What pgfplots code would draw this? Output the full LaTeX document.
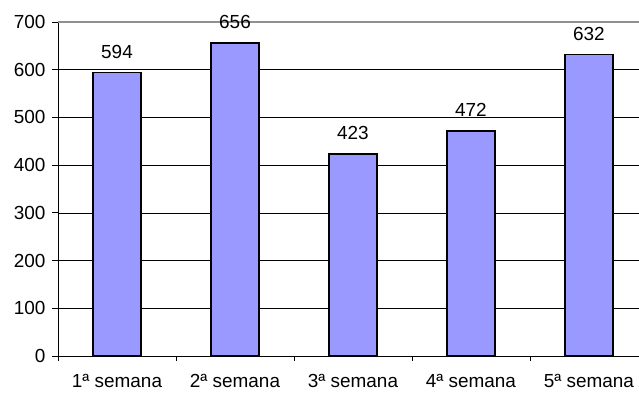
\documentclass[border=0pt]{standalone}
\usepackage{pgfplots}
\pgfplotsset{compat=1.18}
\usepackage{fontspec}
\setmainfont{Liberation Sans}
\definecolor{barblue}{HTML}{9999FF}
\definecolor{topgray}{HTML}{909090}

\begin{document}
\begin{tikzpicture}
\begin{axis}[
  at={(58bp,38bp)}, anchor=south west,
  scale only axis,
  width=581bp, height=334bp,
  xmin=-0.5, xmax=4.424,
  ymin=0, ymax=700,
  axis x line=bottom, axis y line=left,
  axis line style={-, black, line width=0.8bp},
  xtick={0,1,2,3,4},
  xticklabels={1ª semana, 2ª semana, 3ª semana, 4ª semana, 5ª semana},
  minor xtick={-0.5,0.5,1.5,2.5,3.5},
  major x tick style={draw=none},
  minor x tick style={black, line width=0.8bp},
  minor tick length=5bp,
  ytick={0,100,...,600},
  extra y ticks={700},
  extra y tick style={grid style={topgray, line width=1.6bp}},
  ytick style={black, line width=0.8bp},
  major tick length=6bp,
  tick align=outside,
  ymajorgrids,
  grid style={black, line width=0.6bp},
  yticklabel style={font=\fontsize{19}{22}\selectfont, xshift=-3bp},
  xticklabel style={font=\fontsize{19}{22}\selectfont, yshift=-11bp, inner sep=1bp},
  /pgf/number format/assume math mode=true,
  ybar, bar width=48bp,
  nodes near coords,
  every node near coord/.append style={font=\fontsize{19}{22}\selectfont, yshift=10bp},
  clip=false,
]
\addplot[fill=barblue, draw=black, line width=1.6bp] coordinates {
  (0,594) (1,656) (2,423) (3,472) (4,632)
};
\end{axis}
\pgfresetboundingbox
\useasboundingbox (0,0) rectangle (639bp,394bp);
\end{tikzpicture}
\end{document}
